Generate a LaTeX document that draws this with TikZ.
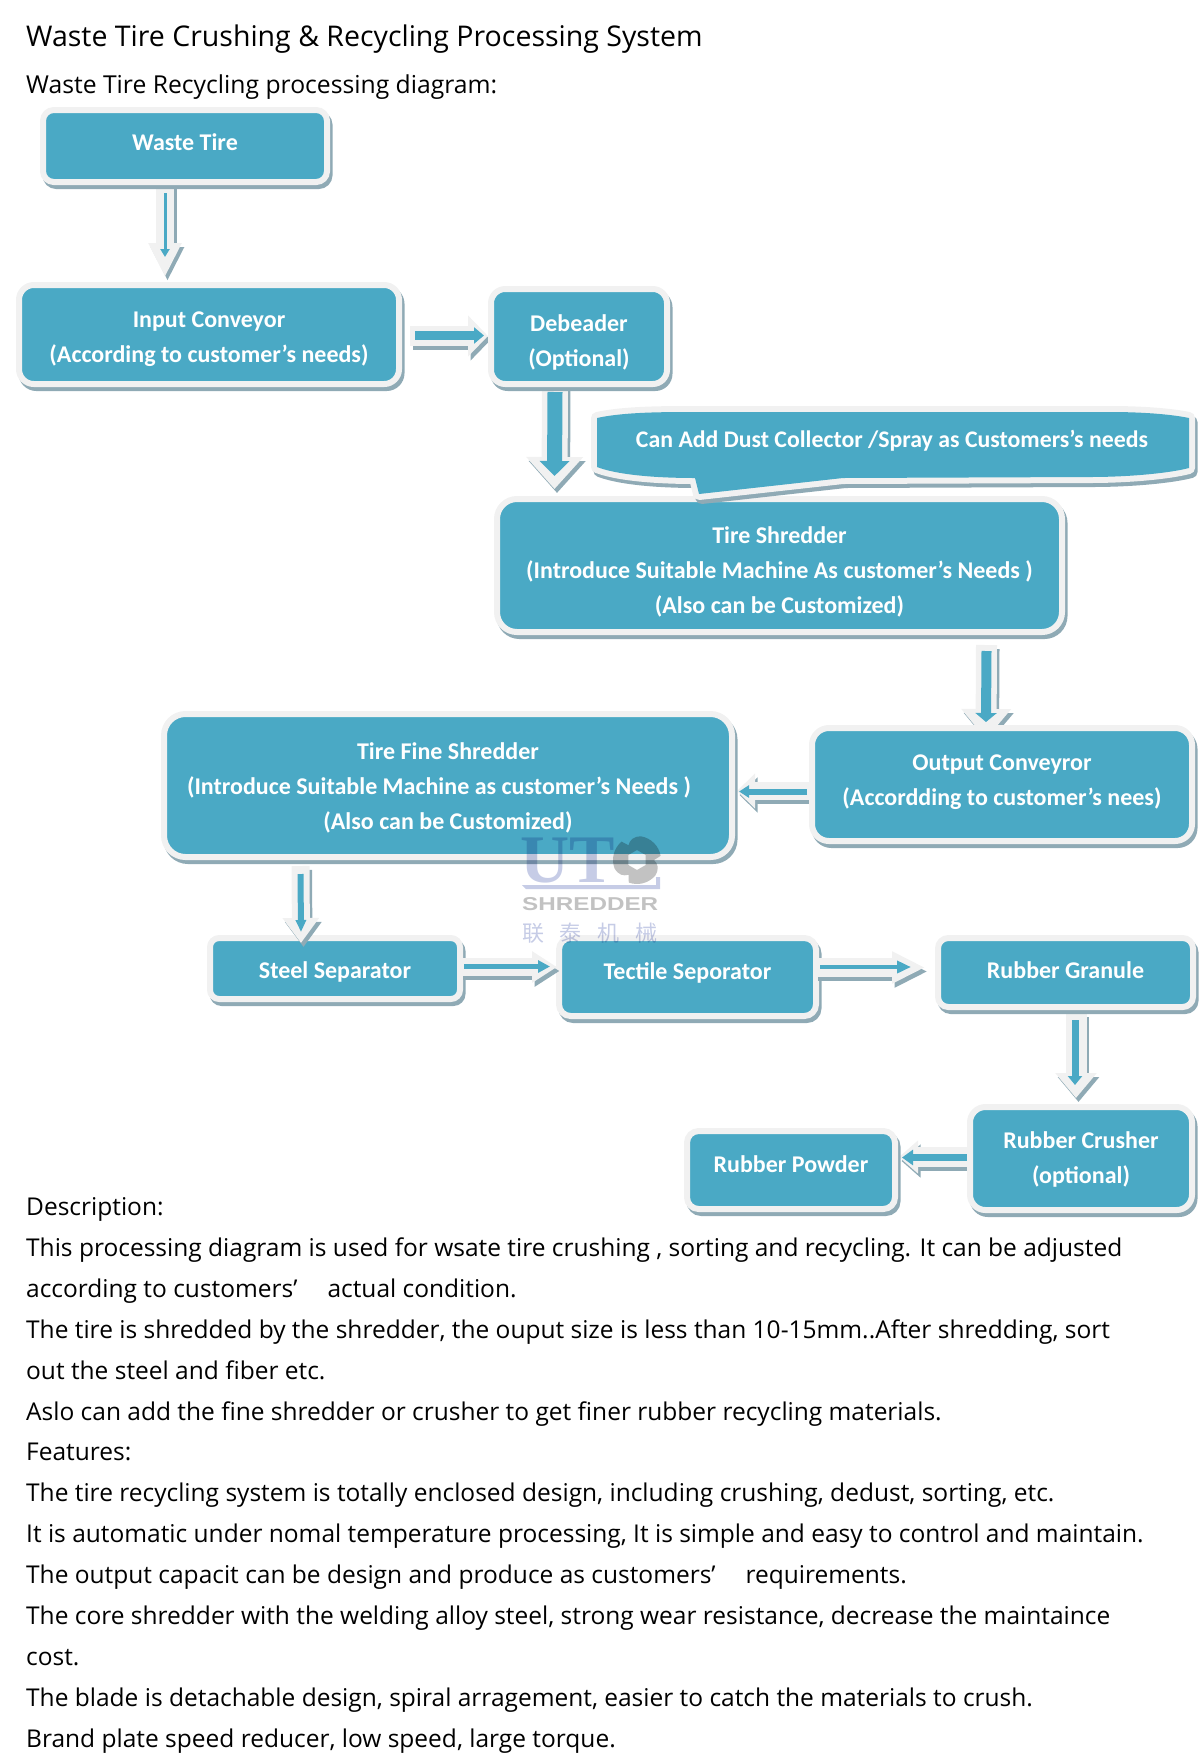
\documentclass[tikz,border=0pt]{standalone}
\usepackage{fontspec}
\usepackage{graphicx}
\setmainfont{Carlito}
\newfontfamily\bodyfont{Open Sans}
\newfontfamily\cjkfont{Noto Sans CJK SC}
\newfontfamily\logoserif{Liberation Serif}
\newfontfamily\logosans{Liberation Sans}
\usetikzlibrary{arrows.meta,calc,backgrounds}
\definecolor{boxblue}{HTML}{4AA9C5}
\definecolor{rimwhite}{HTML}{F1F1F1}
\definecolor{rimshadow}{HTML}{8FAAB5}
\definecolor{logoblue}{HTML}{C6CCE6}
\definecolor{logogray}{HTML}{C2C2C2}
\tikzset{
  flowbox/.style={rectangle,fill=boxblue,draw=rimwhite,line width=6pt,
    preaction={draw=rimshadow,fill=rimshadow,line width=6pt,transform canvas={shift={(2.5pt,-4pt)}}},
    text=white,font=\fontsize{24}{35}\selectfont\bfseries,inner sep=0pt,align=center},
  calloutrim/.style={fill=rimwhite,draw=rimwhite,line width=12pt,line join=round},
  calloutshadow/.style={fill=rimshadow,draw=rimshadow,line width=12pt,line join=round,
    transform canvas={shift={(2.5pt,-4pt)}}},
  calloutfill/.style={fill=boxblue},
  flowtext/.style={text=white,font=\fontsize{23.8}{35}\selectfont\bfseries,inner sep=0pt},
  pagetext/.style={anchor=base west,inner sep=0pt,font=\bodyfont\fontsize{24.5}{30}\selectfont,text=black},
  logo/.style={inner sep=0pt}
}
% name, x1, y1, x2, y2 (blue area), upward text shift, text
\newcommand{\flowboxat}[7]{%
  \pgfmathsetmacro{\cxv}{(#2+#4)/2}%
  \pgfmathsetmacro{\cyv}{(#3+#5)/2}%
  \pgfmathsetmacro{\wv}{#4-#2+6}%
  \pgfmathsetmacro{\hv}{#5-#3+6}%
  \pgfmathsetmacro{\rv}{#6-5.5}%
  \pgfmathsetmacro{\crv}{0.15*\hv}%
  \node[flowbox,rounded corners=\crv pt,minimum width=\wv pt,minimum height=\hv pt] (#1) at (\cxv,\cyv)
    {\raisebox{\rv pt}[0pt][0pt]{\begin{tabular}{@{}c@{}}#7\end{tabular}}};%
}
% block arrow: from, to, white shaft, white head width, white head length, blue shaft, blue head width, blue head length, blue path
\newcommand{\blockarrow}[9]{%
  \draw[rimshadow,line width=#3pt,-{Triangle[width=#4pt,length=#5pt]},transform canvas={shift={(2.5pt,-4pt)}}] #1 -- #2;
  \draw[rimwhite,line width=#3pt,-{Triangle[width=#4pt,length=#5pt]}] #1 -- #2;
  \draw[boxblue,line width=#6pt,-{Triangle[width=#7pt,length=#8pt]}] #9;
}
\newcommand{\calloutpath}{(597,418) .. controls (620,413) and (650,412) .. (690,412) -- (1110,412) .. controls (1140,412) and (1170,414) .. (1189,418) -- (1189,468) .. controls (1170,473) and (1130,477) .. (1090,477) -- (843,478) -- (699,494) -- (695,478) .. controls (650,478) and (615,474) .. (597,467) -- cycle}
\begin{document}
\begin{tikzpicture}[x=1pt,y=-1pt]
\useasboundingbox (0,0) rectangle (1200,1757);
\node[pagetext,font=\bodyfont\fontsize{28.5}{32}\selectfont] (title) at (26,46) {Waste Tire Crushing \& Recycling Processing System};
\node[pagetext,font=\bodyfont\fontsize{24.7}{30}\selectfont] (sub) at (26,93) {Waste Tire Recycling processing diagram:};

\flowboxat{waste}{46}{113}{324}{179}{2}{Waste Tire}
\flowboxat{input}{22}{288}{396}{381}{-4.5}{Input Conveyor\\(According to customer’s needs)}
\flowboxat{debeader}{494}{292}{664}{381}{-6}{Debeader\\(Optional)}
\flowboxat{shredder}{500}{502}{1059}{629}{-6.5}{Tire Shredder\\(Introduce Suitable Machine As customer’s Needs )\\(Also can be Customized)}
\flowboxat{output}{815}{731}{1189}{838}{2.5}{Output Conveyror\\(Accordding to customer’s nees)}
\flowboxat{fine}{167}{717}{729}{854}{-2.5}{Tire Fine Shredder\\(Introduce Suitable Machine as customer’s Needs )\hspace*{18pt}\\(Also can be Customized)}
\flowboxat{steel}{213}{941}{457}{996}{-3.5}{Steel Separator}
\flowboxat{tectile}{562}{941}{813}{1013}{4}{Tectile Seporator}
\flowboxat{granule}{941}{941}{1190}{1004}{0.5}{Rubber Granule}
\flowboxat{crusher}{973}{1110}{1189}{1207}{-1}{Rubber Crusher\\(optional)}
\flowboxat{powder}{690}{1134}{892}{1206}{4}{Rubber Powder}

% callout
\path[calloutshadow] \calloutpath;
\path[calloutrim] \calloutpath;
\path[calloutfill] \calloutpath;
\node[flowtext] (callout) at (892,441) {Can Add Dust Collector /Spray as Customers’s needs};

\begin{pgfonlayer}{background}
\blockarrow{([xshift=-20pt,yshift=2pt]waste.south)}{([xshift=-44pt,yshift=5pt]input.north)}{18}{31}{34}{3}{9}{8}{([xshift=-20pt,yshift=-8pt]waste.south) -- ([xshift=-44pt,yshift=25pt]input.north)}
\blockarrow{([xshift=8pt]input.east |- 0,336)}{(debeader.west |- 0,336)}{20}{40}{20}{9}{16}{10}{([xshift=13pt]input.east |- 0,335.5) -- ([xshift=-4pt]debeader.west |- 0,335.5)}
\blockarrow{([xshift=-24pt,yshift=2pt]debeader.south)}{([xshift=-225pt,yshift=7pt]shredder.north)}{26}{55}{32}{15}{29}{15}{([xshift=-24pt,yshift=-5pt]debeader.south) -- ([xshift=-225pt,yshift=20pt]shredder.north)}
\blockarrow{([xshift=207pt,yshift=-10pt]shredder.south)}{([xshift=-16pt,yshift=-14pt]output.north)}{21}{48}{30}{10}{21}{9}{([xshift=207pt,yshift=-16pt]shredder.south) -- ([xshift=-16pt,yshift=3pt]output.north)}
\blockarrow{(output.west |- 0,791)}{([xshift=2pt]fine.east |- 0,791)}{18}{34}{18}{6}{12}{10}{([xshift=-2pt]output.west |- 0,791.5) -- ([xshift=4pt]fine.east |- 0,791.5)}
\blockarrow{([xshift=10.5pt,yshift=-3pt]granule.south)}{([xshift=-5pt,yshift=6pt]crusher.north)}{21}{40}{25}{7}{14}{9}{([xshift=9.5pt,yshift=-10pt]granule.south) -- ([xshift=-6pt,yshift=19pt]crusher.north)}
\blockarrow{(crusher.west |- 0,1157)}{([xshift=1pt]powder.east |- 0,1157)}{20}{32}{19}{7}{15}{11}{(crusher.west |- 0,1157.5) -- ([xshift=4pt]powder.east |- 0,1157.5)}
\end{pgfonlayer}
\blockarrow{([xshift=-147.5pt,yshift=-6pt]fine.south)}{([xshift=-34pt,yshift=-8pt]steel.north)}{18}{35}{25}{6}{10}{12}{([xshift=-147.5pt,yshift=-14pt]fine.south) -- ([xshift=-34pt,yshift=3pt]steel.north)}
\blockarrow{([xshift=-3pt]steel.east |- 0,967)}{([xshift=1pt]tectile.west |- 0,967)}{18}{30}{25}{5}{12}{12}{([xshift=1pt]steel.east |- 0,966.5) -- ([xshift=-6pt]tectile.west |- 0,966.5)}
\blockarrow{([xshift=-4pt]tectile.east |- 0,967.5)}{([xshift=-10pt]granule.west |- 0,967.5)}{19}{30}{33}{4.5}{12}{14}{([xshift=1pt]tectile.east |- 0,967) -- ([xshift=-24pt]granule.west |- 0,967)}

% body text
\node[pagetext] (d0) at (26,1215) {Description:};
\node[pagetext] (d1) at (26,1256) {This processing diagram is used for wsate tire crushing , sorting and recycling. It can be adjusted};
\node[pagetext] (d2) at (26,1297) {according to customers’\hspace{30pt}actual condition.};
\node[pagetext] (d3) at (26,1338) {The tire is shredded by the shredder, the ouput size is less than 10-15mm..After shredding, sort};
\node[pagetext] (d4) at (26,1379) {out the steel and fiber etc.};
\node[pagetext] (d5) at (26,1420) {Aslo can add the fine shredder or crusher to get finer rubber recycling materials.};
\node[pagetext] (d6) at (26,1460) {Features:};
\node[pagetext] (d7) at (26,1501) {The tire recycling system is totally enclosed design, including crushing, dedust, sorting, etc.};
\node[pagetext] (d8) at (26,1542) {It is automatic under nomal temperature processing, It is simple and easy to control and maintain.};
\node[pagetext] (d9) at (26,1583) {The output capacit can be design and produce as customers’\hspace{30pt}requirements.};
\node[pagetext] (d10) at (26,1624) {The core shredder with the welding alloy steel, strong wear resistance, decrease the maintaince};
\node[pagetext] (d11) at (26,1665) {cost.};
\node[pagetext] (d12) at (26,1706) {The blade is detachable design, spiral arragement, easier to catch the materials to crush.};
\node[pagetext] (d13) at (26,1747) {Brand plate speed reducer, low speed, large torque.};

% watermark
\begin{scope}[blend mode=multiply]
\node[logo,text=logoblue,font=\logoserif\bfseries\fontsize{68}{68}\selectfont,anchor=base west] (ut) at (520,882) {UT};
\begin{scope}[shift={(637,860)}]
\fill[logogray,even odd rule] (0:17)
  .. controls (10:21) and (20:24) .. (40:24) .. controls (63:26) and (87:26) .. (110:24) -- (120:17)
  .. controls (130:21) and (140:24) .. (160:24) .. controls (183:26) and (207:26) .. (230:24) -- (240:17)
  .. controls (250:21) and (260:24) .. (280:24) .. controls (303:26) and (327:26) .. (350:24) -- cycle
  (30:10) -- (90:10) -- (150:10) -- (210:10) -- (270:10) -- (330:10) -- cycle;
\end{scope}
\fill[logoblue] (522,885) -- (656,885) -- (656,877) -- (660,877) -- (660,889) -- (526,889) -- cycle;
\node[logo,anchor=base west,text=logogray] (shred) at (522,910) {\resizebox{136pt}{13pt}{\logosans\bfseries SHREDDER}};
\node[logo,anchor=center,text=logoblue,font=\cjkfont\fontsize{22}{22}\selectfont] (cn) at (590,933) {联\hspace{16pt}泰\hspace{16pt}机\hspace{16pt}械};
\end{scope}
\end{tikzpicture}
\end{document}
